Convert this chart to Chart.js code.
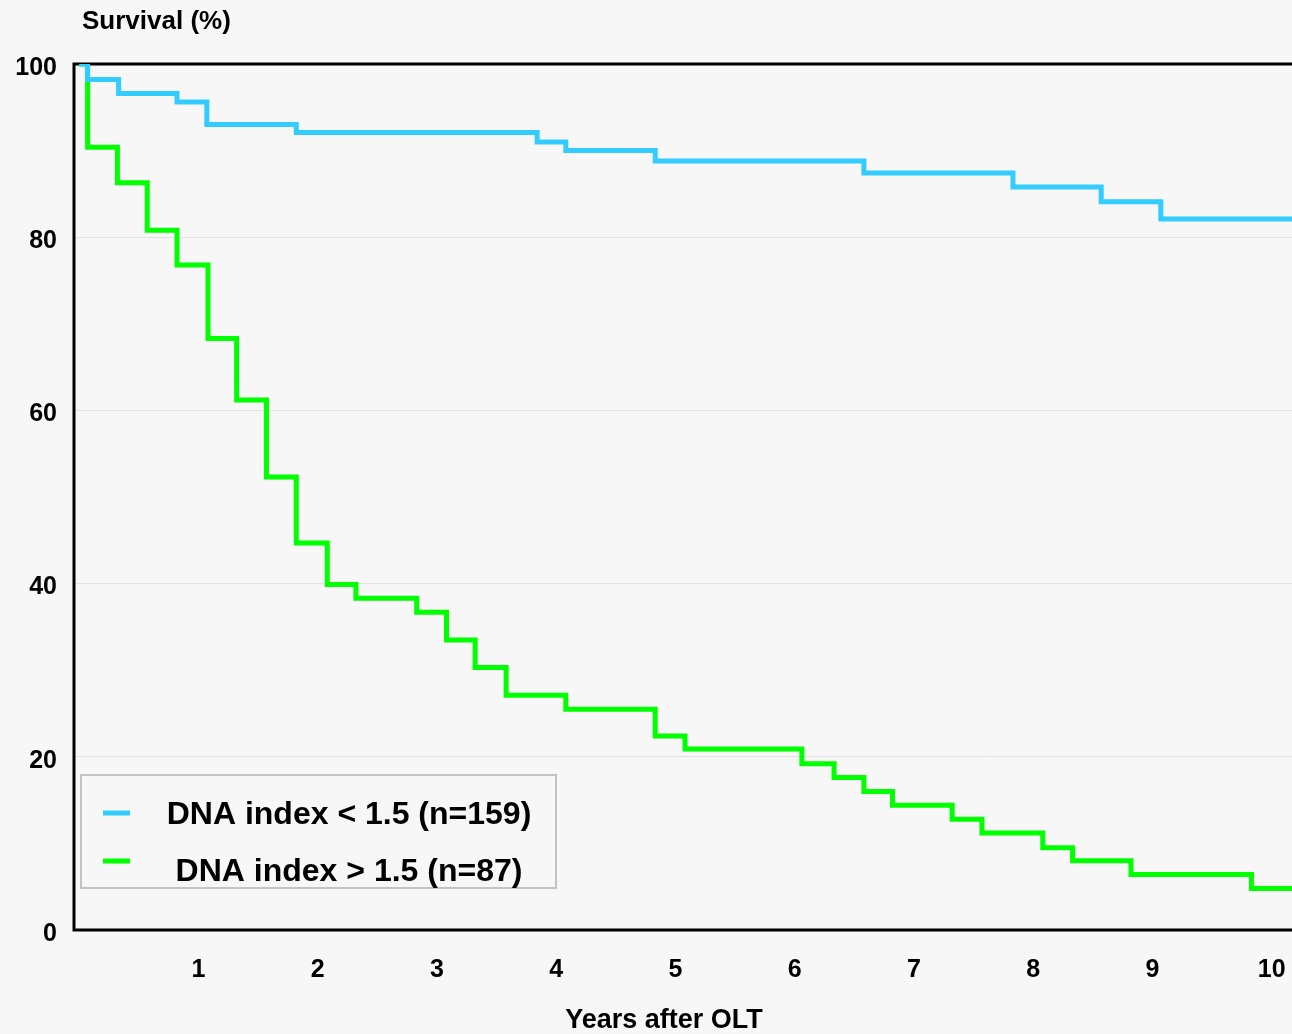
<!DOCTYPE html>
<html lang="en">
<head>
<meta charset="UTF-8">
<title>Survival by DNA index</title>
<script src="https://cdn.jsdelivr.net/npm/chart.js"></script>
<style>
  html, body { margin: 0; padding: 0; background: #f7f7f7; overflow: hidden; }
  .wrap { width: 1292px; height: 1034px; position: relative; }
</style>
</head>
<body>
<div class="wrap"><canvas id="km"></canvas></div>

<script>
// tick labels
const yearTicks = [1, 2, 3, 4, 5, 6, 7, 8, 9, 10];
const survTicks = [0, 20, 40, 60, 80, 100];

// DNA index < 1.5 (n=159) : time of each drop (years) and survival after it (%)
const lowTimes = [0, 0.07, 0.33, 0.82, 1.07, 1.82, 3.84, 4.08, 4.83, 6.58, 7.83, 8.57, 9.07, 10.5];
const lowSurv  = [100, 98.2, 96.6, 95.6, 93.0, 92.1, 91.0, 90.0, 88.8, 87.4, 85.8, 84.1, 82.1, 82.1];

// DNA index > 1.5 (n=87)
const highTimes = [0, 0.07, 0.32, 0.57, 0.82, 1.08, 1.32, 1.57, 1.82, 2.08, 2.32, 2.83, 3.08, 3.32,
                   3.58, 4.08, 4.83, 5.08, 6.06, 6.33, 6.58, 6.82, 7.32, 7.57, 8.08, 8.33, 8.82, 9.83, 10.5];
const highSurv  = [100, 90.4, 86.3, 80.8, 76.8, 68.3, 61.2, 52.3, 44.7, 39.9, 38.3, 36.7, 33.5, 30.3,
                   27.1, 25.5, 22.4, 20.9, 19.2, 17.6, 16.0, 14.4, 12.8, 11.2, 9.5, 8.0, 6.4, 4.8, 4.8];

const seriesNames = ['DNA index < 1.5 (n=159)', 'DNA index > 1.5 (n=87)'];

const FONT = '"Liberation Sans", Arial, sans-serif';

function pts(xs, ys) {
  return xs.map((x, i) => ({ x: x, y: ys[i] }));
}

// frame (left, top, bottom) under the curves
const framePlugin = {
  id: 'frame',
  beforeDatasetsDraw(chart) {
    const a = chart.chartArea;
    const c = chart.ctx;
    c.save();
    c.strokeStyle = '#000';
    c.lineWidth = 3;
    c.beginPath();
    c.moveTo(chart.width + 5, a.top);
    c.lineTo(a.left, a.top);
    c.lineTo(a.left, a.bottom);
    c.lineTo(chart.width + 5, a.bottom);
    c.stroke();
    c.restore();
  }
};

// axis titles and boxed legend
const textPlugin = {
  id: 'texts',
  afterDraw(chart) {
    const a = chart.chartArea;
    const c = chart.ctx;
    c.save();
    c.fillStyle = '#000';
    c.font = 'bold 26px ' + FONT;
    c.textBaseline = 'middle';
    c.textAlign = 'left';
    c.fillText('Survival (%)', a.left + 8, 22);
    c.font = 'bold 27px ' + FONT;
    c.textAlign = 'center';
    c.fillText('Years after OLT', 664, 1021);

    // legend box
    const bx = a.left + 7, by = 775, bw = 475, bh = 113;
    c.fillStyle = '#f7f7f7';
    c.fillRect(bx, by, bw, bh);
    c.strokeStyle = '#c3c3c3';
    c.lineWidth = 2;
    c.strokeRect(bx, by, bw, bh);

    const rows = [{ mark: 813, text: 815 }, { mark: 861, text: 872 }];
    c.font = 'bold 32px ' + FONT;
    chart.data.datasets.forEach((ds, i) => {
      c.strokeStyle = ds.borderColor;
      c.lineWidth = 5;
      c.beginPath();
      c.moveTo(bx + 22, rows[i].mark);
      c.lineTo(bx + 49, rows[i].mark);
      c.stroke();
      c.fillStyle = '#000';
      c.textAlign = 'center';
      c.fillText(ds.label, bx + 268, rows[i].text);
    });
    c.restore();
  }
};

new Chart(document.getElementById('km'), {
  type: 'line',
  data: {
    datasets: [
      {
        label: seriesNames[0],
        data: pts(lowTimes, lowSurv),
        borderColor: '#33ccff',
        borderWidth: 5,
        pointRadius: 0,
        stepped: true,
        fill: false
      },
      {
        label: seriesNames[1],
        data: pts(highTimes, highSurv),
        borderColor: '#00ff00',
        borderWidth: 5,
        pointRadius: 0,
        stepped: true,
        fill: false
      }
    ]
  },
  options: {
    responsive: true,
    maintainAspectRatio: false,
    animation: false,
    layout: { padding: { top: 64, left: 0, right: 0, bottom: 0 } },
    plugins: {
      legend: { display: false },
      tooltip: { enabled: false }
    },
    scales: {
      x: {
        type: 'linear',
        min: -0.044,
        max: 10.17,
        afterBuildTicks(scale) { scale.ticks = yearTicks.map(v => ({ value: v })); },
        afterFit(scale) {
          scale.height = 104;
          scale.paddingLeft = 0;
          scale.paddingRight = 0;
        },
        grid: { display: false, drawTicks: false },
        border: { display: false },
        ticks: {
          color: '#000',
          padding: 25,
          maxRotation: 0,
          autoSkip: false,
          font: { family: FONT, size: 25, weight: 'bold' }
        }
      },
      y: {
        min: 0,
        max: 100,
        afterBuildTicks(scale) { scale.ticks = survTicks.map(v => ({ value: v })); },
        afterFit(scale) { scale.width = 74; },
        grid: { color: '#e2e2e2', lineWidth: 1, drawTicks: false },
        border: { display: false },
        ticks: {
          color: '#000',
          padding: 17,
          labelOffset: 4,
          font: { family: FONT, size: 25, weight: 'bold' }
        }
      }
    }
  },
  plugins: [framePlugin, textPlugin]
});
</script>
</body>
</html>
